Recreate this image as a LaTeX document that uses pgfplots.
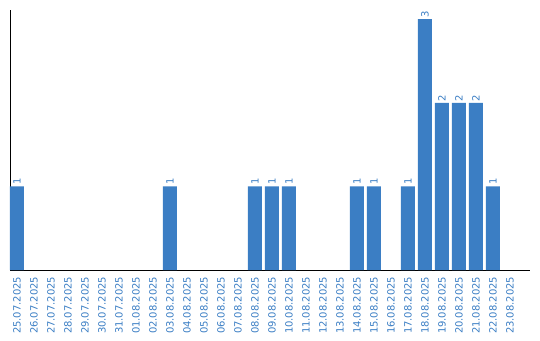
\documentclass[border=0pt]{standalone}
\usepackage{fontspec}
\setmainfont{DejaVu Sans}
\usepackage{pgfplots}
\pgfplotsset{compat=1.18}
\definecolor{barblue}{RGB}{59,126,196}
\begin{document}
\begin{tikzpicture}[x=1bp,y=1bp]
\useasboundingbox (0,0) rectangle (540,340);
\begin{axis}[
  at={(10bp,70bp)}, anchor=south west,
  scale only axis, width=520bp, height=260bp,
  xmin=-0.41, xmax=30.18, ymin=0, ymax=3.11,
  axis x line=bottom, axis y line=left,
  axis line style={black, line width=1bp, -},
  ytick=\empty,
  xtick={0,...,29},
  xticklabels={25.07.2025,26.07.2025,27.07.2025,28.07.2025,29.07.2025,30.07.2025,31.07.2025,01.08.2025,02.08.2025,03.08.2025,04.08.2025,05.08.2025,06.08.2025,07.08.2025,08.08.2025,09.08.2025,10.08.2025,11.08.2025,12.08.2025,13.08.2025,14.08.2025,15.08.2025,16.08.2025,17.08.2025,18.08.2025,19.08.2025,20.08.2025,21.08.2025,22.08.2025,23.08.2025},
  major tick length=0pt,
  xticklabel style={rotate=90, anchor=east, text=barblue, font=\fontsize{10bp}{12bp}\selectfont, inner sep=0pt, xshift=-6.5bp},
  /pgf/number format/assume math mode=true,
  clip=false,
]
\addplot[ybar, bar width=14bp, fill=barblue, draw=none,
  nodes near coords,
  nodes near coords style={rotate=90, anchor=west, inner sep=1.5bp, text=barblue, font=\fontsize{10bp}{12bp}\selectfont},
] coordinates {
(0,1) (9,1) (14,1) (15,1) (16,1) (20,1) (21,1) (23,1) (24,3) (25,2) (26,2) (27,2) (28,1)
};
\end{axis}
\end{tikzpicture}
\end{document}
